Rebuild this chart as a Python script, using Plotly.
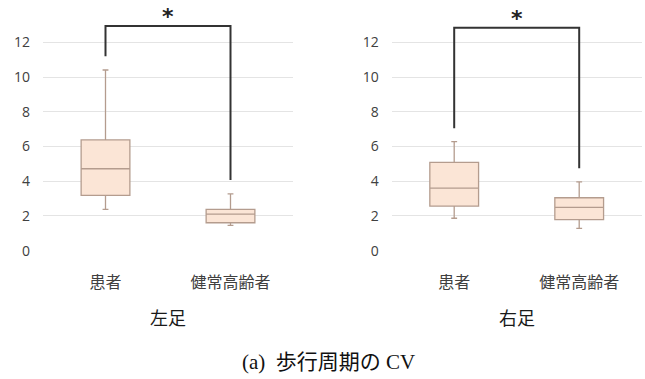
import plotly.graph_objects as go

# Groups and precomputed box statistics (CV of gait cycle, %)
groups = ["患者", "健常高齢者"]
panels = ["左足", "右足"]

left_lower = [2.38, 1.46]
left_q1 = [3.19, 1.61]
left_median = [4.72, 2.11]
left_q3 = [6.38, 2.38]
left_upper = [10.41, 3.27]

right_lower = [1.87, 1.29]
right_q1 = [2.57, 1.79]
right_median = [3.61, 2.50]
right_q3 = [5.09, 3.05]
right_upper = [6.28, 3.97]

# Significance brackets: [top, left leg end, right leg end]
left_bracket = [12.94, 11.2, 4.07]
right_bracket = [12.85, 7.05, 4.75]

y_ticks = [0, 2, 4, 6, 8, 10, 12]
caption = "(a)  歩行周期の CV"

BOX_FILL = "#FBE5D6"
BOX_LINE = "#B49C8E"
TEXT = "#404040"
SANS = "Noto Sans CJK JP, Noto Sans, sans-serif"

fig = go.Figure()

stats = [
    ("x", "y", left_lower, left_q1, left_median, left_q3, left_upper),
    ("x2", "y2", right_lower, right_q1, right_median, right_q3, right_upper),
]
for xa, ya, lo, q1, med, q3, up in stats:
    fig.add_trace(go.Box(
        x=groups, q1=q1, median=med, q3=q3,
        lowerfence=lo, upperfence=up,
        xaxis=xa, yaxis=ya,
        fillcolor=BOX_FILL,
        line=dict(color=BOX_LINE, width=1.3),
        width=0.39, whiskerwidth=0.12,
        boxpoints=False, showlegend=False, hoverinfo="skip",
    ))

# Brackets and asterisks
for xref, yref, (top, l_end, r_end) in [("x", "y", left_bracket), ("x2", "y2", right_bracket)]:
    fig.add_shape(type="path", xref=xref, yref=yref,
                  path=f"M 0,{l_end} L 0,{top} L 1,{top} L 1,{r_end}",
                  line=dict(color="#333333", width=2))
    fig.add_annotation(x=0.5, y=top, xref=xref, yref=yref, text="<b>*</b>",
                       showarrow=False, yanchor="bottom", yshift=-5,
                       font=dict(family="DejaVu Sans", size=22, color="#222222"))

ydom = [(379 - 250.7) / 379, (379 - 7.7) / 379]
axis_common = dict(type="category", showgrid=False, showline=False, ticks="",
                   tickfont=dict(family=SANS, size=16, color=TEXT),
                   ticklabelstandoff=20, range=[-0.5, 1.5], automargin=False)
yaxis_common = dict(range=[0, 14], domain=ydom, tickvals=y_ticks,
                    showgrid=True, gridcolor="#E4E4E4", gridwidth=1,
                    zeroline=False, showline=False, ticks="", automargin=False,
                    tickfont=dict(family="Open Sans, Noto Sans, sans-serif", size=14, color=TEXT),
                    ticklabelstandoff=12)

fig.update_layout(
    width=645, height=379,
    margin=dict(l=0, r=0, t=0, b=0),
    paper_bgcolor="white", plot_bgcolor="white",
    xaxis=dict(domain=[43 / 645, 293 / 645], anchor="y", **axis_common),
    xaxis2=dict(domain=[391.7 / 645, 641.7 / 645], anchor="y2", **axis_common),
    yaxis=dict(anchor="x", **yaxis_common),
    yaxis2=dict(anchor="x2", **yaxis_common),
)

# Panel titles under each axis
for xref, name in [("x domain", panels[0]), ("x2 domain", panels[1])]:
    fig.add_annotation(x=0.5, xref=xref, y=(379 - 316.5) / 379, yref="paper",
                       text=name, showarrow=False, yanchor="middle",
                       font=dict(family=SANS, size=18, color="#1a1a1a"))

fig.add_annotation(x=328 / 645, xref="paper", y=(379 - 361.5) / 379, yref="paper",
                   text=caption, showarrow=False, yanchor="middle",
                   font=dict(family="Liberation Serif, Noto Sans CJK JP, serif", size=21, color="#111111"))

fig.write_html("out.html")
